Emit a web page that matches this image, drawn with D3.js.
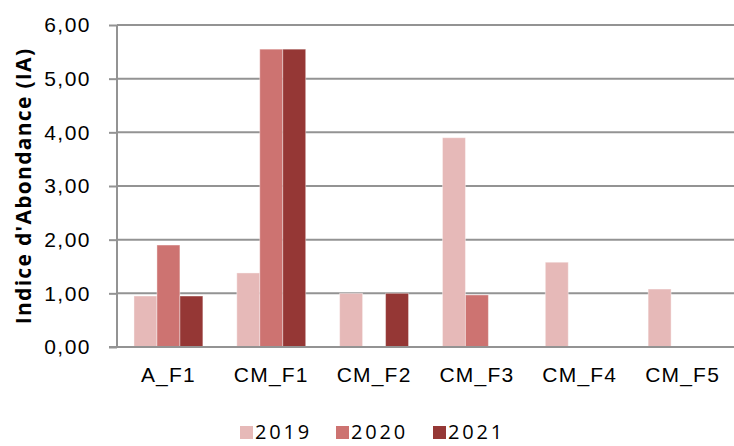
<!DOCTYPE html>
<html lang="fr">
<head>
    <meta charset="UTF-8">
    <title>Indice d'Abondance</title>
    <script src="https://cdnjs.cloudflare.com/ajax/libs/d3/7.8.5/d3.min.js"></script>
    <style>
        body { margin: 0; background: #fff; font-family: "Open Sans", Arial, sans-serif; }
        svg text { fill: #000; }
    </style>
</head>
<body>
    <div id="chart"></div>

    <script>
        // data
        var categories = ["A_F1", "CM_F1", "CM_F2", "CM_F3", "CM_F4", "CM_F5"];
        var years = ["2019", "2020", "2021"];
        var values2019 = [0.95, 1.38, 1.00, 3.90, 1.58, 1.08];
        var values2020 = [1.90, 5.55, 0, 0.97, 0, 0];
        var values2021 = [0.95, 5.55, 1.00, 0, 0, 0];
        var yTicks = [0, 1, 2, 3, 4, 5, 6];
        var colors = ["#e6b9b8", "#cd7371", "#953735"];

        var series = [values2019, values2020, values2021];

        var width = 734, height = 446;
        var margin = {top: 25, right: 0, bottom: 99, left: 117};
        var innerW = width - margin.left - margin.right,
            innerH = height - margin.top - margin.bottom;

        var svg = d3.select("#chart").append("svg")
            .attr("width", width)
            .attr("height", height);

        var g = svg.append("g")
            .attr("transform", "translate(" + margin.left + "," + margin.top + ")");

        var x = d3.scaleBand()
            .domain(categories)
            .range([0, innerW])
            .paddingInner(0.33)
            .paddingOuter(0.165);

        var xSub = d3.scaleBand()
            .domain(years)
            .range([0, x.bandwidth()]);

        var y = d3.scaleLinear()
            .domain([0, 6])
            .range([innerH, 0]);

        var fmt = function(d) { return d.toFixed(2).replace(".", ","); };

        // gridlines
        g.append("g")
            .selectAll("line")
            .data(yTicks.filter(function(d) { return d > 0; }))
            .enter().append("line")
            .attr("x1", 0)
            .attr("x2", innerW)
            .attr("y1", function(d) { return y(d); })
            .attr("y2", function(d) { return y(d); })
            .attr("stroke", "#939393")
            .attr("stroke-width", 2);

        // bars, one group per year; zero values are not drawn
        years.forEach(function(yr, i) {
            var rows = categories.map(function(c, j) { return {cat: c, value: series[i][j]}; })
                .filter(function(d) { return d.value > 0; });
            g.append("g")
                .selectAll("rect")
                .data(rows)
                .enter().append("rect")
                .attr("x", function(d) { return x(d.cat) + xSub(yr); })
                .attr("y", function(d) { return y(d.value); })
                .attr("width", xSub.bandwidth())
                .attr("height", function(d) { return innerH - y(d.value); })
                .attr("fill", colors[i])
                .attr("stroke", "rgba(255,255,255,0.4)")
                .attr("stroke-width", 1);
        });

        // y axis
        var yAxis = g.append("g")
            .call(d3.axisLeft(y).tickValues(yTicks).tickFormat(fmt).tickSize(8).tickPadding(18));
        yAxis.select(".domain").attr("stroke", "#939393").attr("stroke-width", 2)
            .attr("d", "M0," + innerH + "V0");
        yAxis.selectAll(".tick line").attr("stroke", "#939393").attr("stroke-width", 2);
        yAxis.selectAll("text")
            .style("font-size", "21px")
            .style("letter-spacing", "1.5px")
            .attr("fill", "#000");

        // x axis
        var xAxis = g.append("g")
            .attr("transform", "translate(0," + innerH + ")")
            .call(d3.axisBottom(x).tickSize(0).tickPadding(20));
        xAxis.select(".domain").attr("stroke", "#939393").attr("stroke-width", 2)
            .attr("d", "M-8,0H" + innerW);
        xAxis.selectAll("text")
            .style("font-size", "21px")
            .style("letter-spacing", "1.2px")
            .attr("fill", "#000");

        // y title
        svg.append("text")
            .attr("transform", "translate(31," + (margin.top + innerH / 2) + ") rotate(-90)")
            .attr("text-anchor", "middle")
            .style("font-size", "21px")
            .style("font-weight", "bold")
            .style("letter-spacing", "1.3px")
            .text("Indice d'Abondance (IA)");

        // legend
        var legendX = [240, 336, 433];
        var legend = svg.append("g").selectAll("g")
            .data(years)
            .enter().append("g")
            .attr("transform", function(d, i) { return "translate(" + legendX[i] + ",426)"; });

        legend.append("rect")
            .attr("width", 13)
            .attr("height", 13)
            .attr("fill", function(d, i) { return colors[i]; });

        legend.append("text")
            .attr("x", 15)
            .attr("y", 13)
            .style("font-size", "20px")
            .style("letter-spacing", "2.8px")
            .text(function(d) { return d; });
    </script>
</body>
</html>
